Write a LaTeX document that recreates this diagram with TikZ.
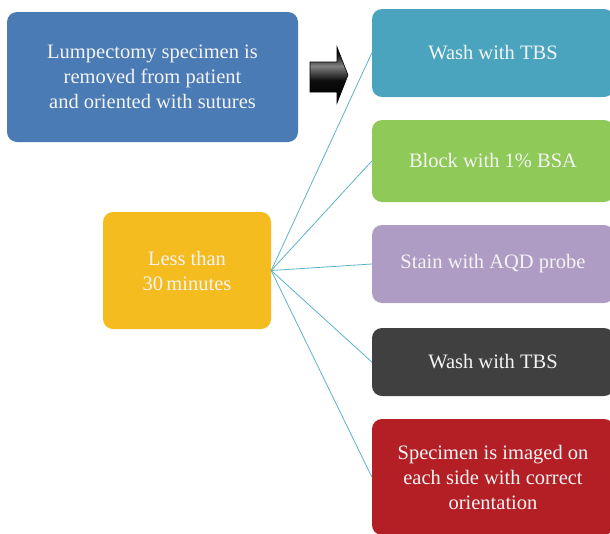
\documentclass[tikz,border=0pt]{standalone}
\usepackage{fontspec}
\setmainfont{Liberation Serif}
\definecolor{cblue}{HTML}{4A7BB5}
\definecolor{cyellow}{HTML}{F5BC1F}
\definecolor{cteal}{HTML}{4BA4BE}
\definecolor{cgreen}{HTML}{8FC957}
\definecolor{cpurple}{HTML}{AE9CC4}
\definecolor{cdark}{HTML}{404040}
\definecolor{cred}{HTML}{B31F25}
\definecolor{cline}{HTML}{5BB3CB}
\definecolor{ctext}{HTML}{F4F4F4}
\pgfdeclareverticalshading{arrowshade}{100bp}{color(0bp)=(black); color(25bp)=(black); color(45bp)=(black!95); color(58bp)=(black!50); color(68bp)=(black!90); color(75bp)=(black); color(100bp)=(black)}
\begin{document}
\begin{tikzpicture}[x=1pt,y=-1pt,
  box/.style={draw=none, rounded corners=10pt, text=ctext, align=center,
    font=\fontsize{20.5}{25}\selectfont, inner sep=0pt},
  rbox/.style={box, minimum width=242pt},
  conn/.style={draw=cline, line width=0.8pt}]
\useasboundingbox (0,0) rectangle (610,533);
\clip (0,0) rectangle (610,533);
\node[box, fill=cblue, minimum width=291pt, minimum height=130pt] (spec) at (152.5,77)
  {Lumpectomy specimen is\\removed from patient\\and oriented with sutures};
\node[box, fill=cyellow, minimum width=168pt, minimum height=117pt] (time) at (187,270.5)
  {Less than\\30\,minutes};
\node[rbox, fill=cteal, minimum height=88pt] (wash1) at (493,53) {Wash with TBS};
\node[rbox, fill=cgreen, minimum height=82pt] (block) at (493,161) {Block with 1\% BSA};
\node[rbox, fill=cpurple, minimum height=78pt] (stain) at (493,264) {Stain with AQD probe};
\node[rbox, fill=cdark, minimum height=68pt] (wash2) at (493,362) {Wash with TBS};
\node[rbox, fill=cred, minimum height=116pt] (image) at (493,477)
  {Specimen is imaged on\\each side with correct\\orientation};
\draw[draw=black, line width=0.6pt, shading=arrowshade, line join=miter]
  (310,62) -- (337,62) -- (337,47) -- (348,75) -- (337,103) -- (337,92) -- (310,92) -- cycle;
\foreach \t in {wash1,block,stain,wash2,image}
  \draw[conn] (time.east) -- (\t.west);
\end{tikzpicture}
\end{document}
